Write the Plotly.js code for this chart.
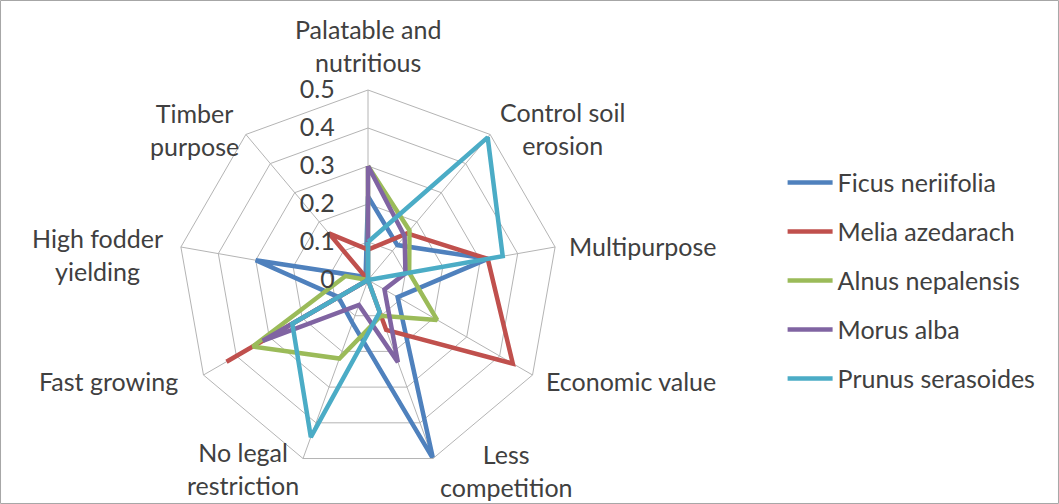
<!DOCTYPE html>
<html>
<head>
<meta charset="utf-8">
<script src="https://cdn.plot.ly/plotly-3.0.1.min.js"></script>
<style>html,body{margin:0;padding:0;background:#fff;}#chart{width:1059px;height:504px;}</style>
</head>
<body>
<div id="chart"></div>
<script>
const categories = ["Palatable and<br>nutritious", "Control soil<br>erosion", "Multipurpose", "Economic value", "Less<br>competition", "No legal<br>restriction", "Fast growing", "High fodder<br>yielding", "Timber<br>purpose"];
const seriesNames = ["Ficus neriifolia", "Melia azedarach", "Alnus nepalensis", "Morus alba", "Prunus serasoides"];
const ficus  = [0.22, 0.12, 0.32, 0.09, 0.50, 0.12, 0.09, 0.30, 0.01];
const melia  = [0.08, 0.16, 0.32, 0.44, 0.14, 0.00, 0.43, 0.00, 0.16];
const alnus  = [0.30, 0.17, 0.11, 0.21, 0.10, 0.22, 0.35, 0.06, 0.00];
const morus  = [0.30, 0.15, 0.10, 0.05, 0.23, 0.07, 0.32, 0.00, 0.00];
const prunus = [0.10, 0.49, 0.36, 0.00, 0.09, 0.44, 0.23, 0.00, 0.00];
const tickVals = [0, 0.1, 0.2, 0.3, 0.4, 0.5];
const tickText = ["0", "0.1", "0.2", "0.3", "0.4", "0.5"];
const colors = ["#4F81BD", "#C0504D", "#9BBB59", "#8064A2", "#4BACC6"];

// label placement (pixel centres of each category label block)
const labelPos = [[368, 45], [562, 128], [643, 246], [631, 381], [506, 470], [243, 468], [108, 381], [97, 254], [194, 129]];

const W = 1059, H = 504;
const allSeries = [ficus, melia, alnus, morus, prunus];
const FONT = "Lato, 'Liberation Sans', sans-serif";
const TXT = "#404040";

const traces = allSeries.map((vals, i) => ({
  type: "scatterpolar",
  mode: "lines",
  name: seriesNames[i],
  legendgroup: "g" + i,
  r: vals.concat([vals[0]]),
  theta: categories.concat([categories[0]]),
  line: {color: colors[i], width: 4.5},
  hoverinfo: "skip"
}));

const annotations = categories.map((c, i) => ({
  text: c, xref: "paper", yref: "paper",
  x: labelPos[i][0] / W, y: 1 - labelPos[i][1] / H,
  xanchor: "center", yanchor: "middle", align: "center", showarrow: false,
  font: {family: FONT, size: 25, color: TXT}
}));

const layout = {
  width: W, height: H,
  margin: {l: 0, r: 0, t: 0, b: 0},
  paper_bgcolor: "#fff",
  font: {family: FONT, size: 25, color: TXT},
  showlegend: true,
  legend: {
    x: 0.739, y: 0.683, xanchor: "left", yanchor: "top",
    font: {family: FONT, size: 25, color: TXT},
    tracegroupgap: 13.5, itemwidth: 45, bgcolor: "rgba(0,0,0,0)"
  },
  polar: {
    domain: {x: [0.1681, 0.5269], y: [0.0675, 0.8214]},
    bgcolor: "#fff",
    gridshape: "linear",
    radialaxis: {
      range: [0, 0.5], tickvals: tickVals, ticktext: tickText,
      angle: 90, side: "counterclockwise", tickangle: 90,
      showline: false, gridcolor: "#b4b4b4", gridwidth: 1,
      ticks: "outside", ticklen: 24, tickcolor: "rgba(0,0,0,0)",
      tickfont: {family: FONT, size: 25, color: TXT}
    },
    angularaxis: {
      direction: "clockwise", rotation: 90,
      showline: true, linecolor: "#b4b4b4", linewidth: 1,
      gridcolor: "#b4b4b4", gridwidth: 1, ticks: "", showticklabels: false
    }
  },
  annotations: annotations,
  shapes: [{type: "rect", xref: "paper", yref: "paper", x0: 0.0005, x1: 0.9995, y0: 0.001, y1: 0.999,
            line: {color: "#a6a6a6", width: 1}}]
};

Plotly.newPlot("chart", traces, layout, {displayModeBar: false, staticPlot: true});
</script>
</body>
</html>
